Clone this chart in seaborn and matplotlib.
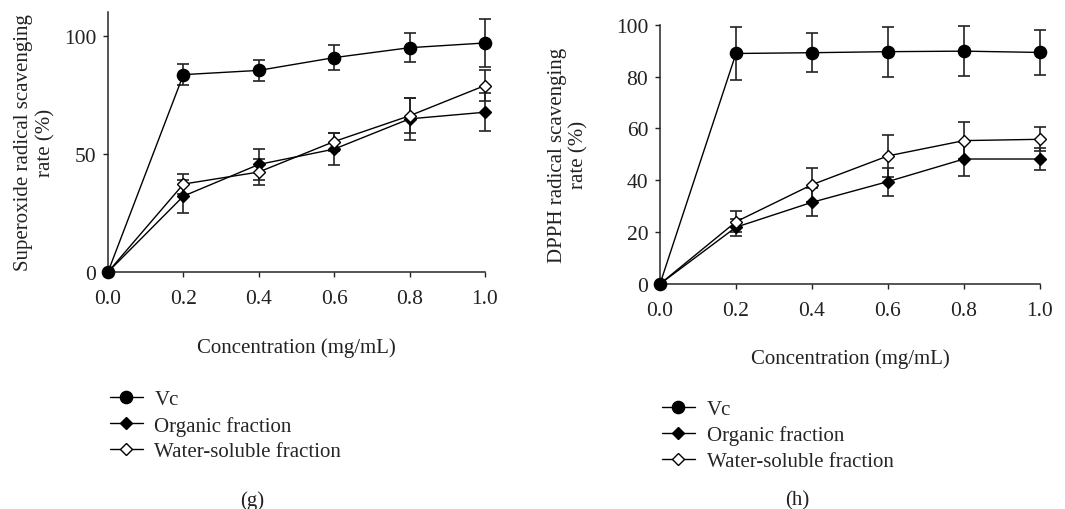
import numpy as np
import pandas as pd
import seaborn as sns
import matplotlib
matplotlib.use("Agg")
import matplotlib.pyplot as plt
from matplotlib.lines import Line2D

# ---- data ----
conc = [0.0, 0.2, 0.4, 0.6, 0.8, 1.0]
series_names = ["Vc", "Organic fraction", "Water-soluble fraction"]

# panel (g) superoxide
g_vc = [0, 83.5, 85.3, 90.7, 94.9, 96.9]
g_vc_err = [0, 4.4, 4.4, 5.3, 6.2, 10.0]
g_org = [0, 32.1, 45.5, 52.0, 64.8, 67.6]
g_org_err = [0, 7.0, 6.5, 6.7, 8.9, 8.0]
g_wat = [0, 37.2, 42.3, 55.2, 66.1, 78.9]
g_wat_err = [0, 4.2, 5.5, 3.8, 7.5, 6.6]

# panel (h) DPPH
h_vc = [0, 88.9, 89.2, 89.6, 89.8, 89.3]
h_vc_err = [0, 10.2, 7.5, 9.6, 9.6, 8.7]
h_org = [0, 21.9, 31.5, 39.5, 48.2, 48.2]
h_org_err = [0, 3.2, 5.4, 5.4, 6.4, 4.3]
h_wat = [0, 24.0, 38.3, 49.4, 55.3, 55.8]
h_wat_err = [0, 4.1, 6.6, 8.2, 7.0, 4.6]

g_ylabel = "Superoxide radical scavenging\nrate (%)"
h_ylabel = "DPPH radical scavenging\nrate (%)"
xlabel = "Concentration (mg/mL)"
g_yticks = [0, 50, 100]
h_yticks = [0, 20, 40, 60, 80, 100]
xticks = [0.0, 0.2, 0.4, 0.6, 0.8, 1.0]

sns.set_theme(style="ticks")
plt.rcParams["font.family"] = ["Liberation Serif", "DejaVu Serif"]
plt.rcParams["axes.linewidth"] = 1.1

FS = 15
TFS = 15.5
TXT = "#222222"
styles = {
    "Vc": dict(marker="o", markersize=8.8, markerfacecolor="black"),
    "Organic fraction": dict(marker="D", markersize=6.5, markerfacecolor="black"),
    "Water-soluble fraction": dict(marker="D", markersize=6.5, markerfacecolor="white"),
}
zorders = {"Vc": 5, "Organic fraction": 3, "Water-soluble fraction": 4}

fig = plt.figure(figsize=(10.65, 5.10), dpi=100)
ax1 = fig.add_axes([0.1014, 0.4647, 0.354, 0.5098])
ax2 = fig.add_axes([0.6197, 0.4412, 0.3568, 0.5084])

def draw(ax, vals, errs, ylim, yticks, ylabel, ylabelpad, xlabelpad, lsp):
    for name, y, e in zip(series_names, vals, errs):
        df = pd.DataFrame({"x": conc, "y": y})
        ax.errorbar(conc, y, yerr=e, fmt="none", ecolor=TXT, elinewidth=1.2,
                    capsize=4, capthick=1.2, zorder=2, clip_on=False)
        sns.lineplot(data=df, x="x", y="y", ax=ax, color="black", linewidth=1.0,
                     markeredgecolor="black", markeredgewidth=1.0,
                     zorder=zorders[name], clip_on=False, legend=False, **styles[name])
    ax.set_xlim(0, 1.0)
    ax.set_ylim(*ylim)
    ax.set_xticks(xticks)
    ax.set_xticklabels([f"{t:.1f}" for t in xticks], fontsize=TFS)
    ax.set_yticks(yticks)
    ax.set_yticklabels([str(t) for t in yticks], fontsize=TFS)
    ax.tick_params(direction="out", length=3.5, width=1.0, colors=TXT)
    ax.tick_params(axis="x", pad=9)
    ax.tick_params(axis="y", pad=5)
    ax.set_xlabel(xlabel, fontsize=FS, labelpad=xlabelpad, color=TXT)
    ax.set_ylabel(ylabel, fontsize=FS, labelpad=ylabelpad, color=TXT, linespacing=lsp)
    sns.despine(ax=ax)

draw(ax1, [g_vc, g_org, g_wat], [g_vc_err, g_org_err, g_wat_err], (0, 110), g_yticks,
     g_ylabel, 6, 21, 1.2)
draw(ax2, [h_vc, h_org, h_wat], [h_vc_err, h_org_err, h_wat_err], (0, 100), h_yticks,
     h_ylabel, 20, 20, 1.1)

def handles():
    hs = []
    for name in series_names:
        hs.append(Line2D([], [], color="black", linewidth=1.0, markeredgecolor="black",
                         **styles[name]))
    return hs

fig.legend(handles(), series_names, loc="upper left", bbox_to_anchor=(0.095, 0.250),
           frameon=False, fontsize=FS, handlelength=1.6, handletextpad=0.55,
           labelspacing=0.3, borderaxespad=0)
fig.legend(handles(), series_names, loc="upper left", bbox_to_anchor=(0.6135, 0.231),
           frameon=False, fontsize=FS, handlelength=1.6, handletextpad=0.55,
           labelspacing=0.3, borderaxespad=0)

fig.text(252 / 1065, 1 - 501 / 510, "(g)", ha="center", va="center", fontsize=FS, color=TXT)
fig.text(797 / 1065, 1 - 501 / 510, "(h)", ha="center", va="center", fontsize=FS, color=TXT)

fig.savefig("out.png", dpi=100, facecolor="white")
